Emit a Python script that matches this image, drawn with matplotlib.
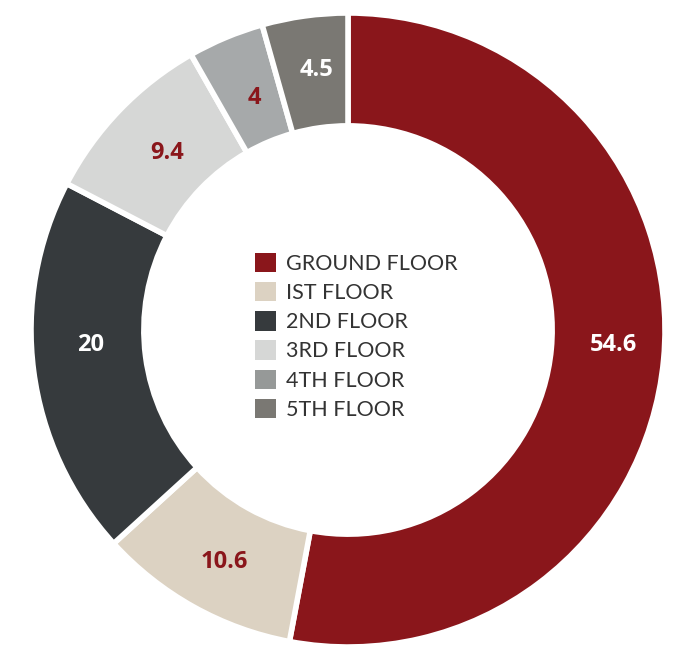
import matplotlib
matplotlib.use("Agg")
import matplotlib.pyplot as plt
from matplotlib.patches import Patch
import numpy as np

floors = ["GROUND FLOOR", "IST FLOOR", "2ND FLOOR", "3RD FLOOR", "4TH FLOOR", "5TH FLOOR"]
values = [54.6, 10.6, 20, 9.4, 4, 4.5]
colors = ["#8A161B", "#DCD2C2", "#363A3D", "#D6D7D6", "#A6A9AA", "#7A7873"]
legend_colors = ["#8A161B", "#DCD2C2", "#363A3D", "#D6D7D6", "#969998", "#7A7873"]
label_colors = ["white", "#8A161B", "white", "#8A161B", "#8A161B", "white"]

# small angular nudges (degrees, clockwise) for the value labels
label_nudge = [-2.0, -1.0, 4.0, 0.5, 0.7, 1.0]
label_radius = [0.84, 0.83, 0.815, 0.80, 0.79, 0.825]

fig = plt.figure(figsize=(6.83, 6.46), dpi=100)
ax = fig.add_axes([31 / 683, -1 / 646, 634 / 683, 634 / 646])

ring_width = 0.356
ax.pie(values, colors=colors, startangle=90, counterclock=False, radius=1.0,
       wedgeprops=dict(width=ring_width, edgecolor="white", linewidth=4))

total = sum(values)
cum = 0.0
for v, c, dn, r in zip(values, label_colors, label_nudge, label_radius):
    mid_deg = 360 * (cum + v / 2) / total + dn
    ang = np.deg2rad(90 - mid_deg)
    ax.text(r * np.cos(ang), r * np.sin(ang), f"{v:g}", ha="center", va="center",
            color=c, fontsize=17, fontweight="bold", family=["Open Sans", "DejaVu Sans"])
    cum += v

handles = [Patch(facecolor=col, edgecolor="none") for col in legend_colors]
ax.legend(handles, floors, loc="center", bbox_to_anchor=(0.513, 0.49),
          frameon=False, prop=dict(family="Lato", size=15.5),
          handlelength=1.0, handleheight=1.0, handletextpad=0.45,
          labelspacing=0.38, labelcolor="#333333")

ax.set_xlim(-1, 1)
ax.set_ylim(-1, 1)
ax.set_aspect("equal")
ax.axis("off")

fig.savefig("out.png", dpi=100, facecolor="white")
